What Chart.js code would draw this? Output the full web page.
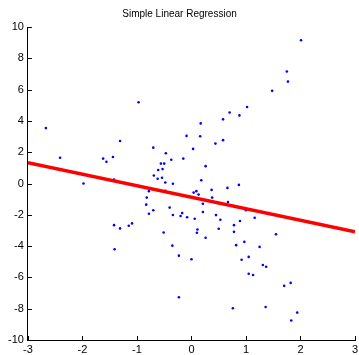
<!DOCTYPE html>
<html><head><meta charset="utf-8">
<script src="https://cdn.jsdelivr.net/npm/chart.js@4.4.0/dist/chart.umd.min.js"></script>
<style>html,body{margin:0;padding:0;background:#fff;overflow:hidden;}</style>
</head><body>
<canvas id="c" width="359" height="355" style="display:block;width:359px;height:355px"></canvas>
<script>
const titleText = "Simple Linear Regression";
const pointsX = [-0.97, 2.01, 1.75, 1.77, 1.48, 1.02, 0.70, 0.88, 0.58, -2.67,
  -2.41, -1.98, -1.62, -1.56, -1.44, -1.31, -1.42, -0.70, -0.47, -0.37,
  -0.56, -0.50, -0.53, -0.61, -0.69, -0.62, -0.54, -0.48, -0.34, -0.48,
  -0.78, -0.82, -0.83, -0.70, -0.78, -0.40, -0.34, -0.20, -1.42, -1.31,
  -1.15, -1.09, -1.41, -0.51, -0.35, -0.23, -0.23, 0.17, -0.09, 0.16,
  0.44, 0.58, 0.03, -0.15, 0.26, 0.18, 0.04, 0.09, 0.13, 0.37,
  0.66, 0.87, 0.38, 0.21, 0.67, 0.47, 1.00, 1.16, -0.17, -0.08,
  0.06, 0.21, 0.45, 0.53, 0.89, 0.78, 0.50, 0.00, 0.11, 0.10,
  0.26, 0.78, 0.82, 0.97, 1.25, 0.92, 1.05, 1.55, 1.31, 1.37,
  1.05, 1.13, 1.70, 1.82, 0.76, 1.36, 1.94, 1.83];
const pointsY = [5.19, 9.15, 7.16, 6.51, 5.92, 4.89, 4.54, 4.35, 4.10, 3.54,
  1.65, 0.00, 1.59, 1.39, 1.69, 2.72, 0.26, 2.29, 1.93, 1.52,
  1.27, 1.27, 0.92, 0.86, 0.51, 0.30, 0.37, 0.06, -0.02, -0.47,
  -0.49, -0.90, -1.35, -1.71, -1.93, -1.54, -2.01, -2.08, -2.66, -2.87,
  -2.70, -2.55, -4.20, -3.13, -3.97, -4.61, -7.27, 3.84, 3.04, 3.02,
  2.55, 2.77, 2.21, 1.59, 1.11, 0.21, -0.58, -0.49, -0.71, -0.41,
  -0.28, -0.09, -0.90, -1.29, -1.18, -1.25, -1.71, -2.19, -1.89, -2.16,
  -2.25, -1.82, -2.02, -2.32, -2.40, -2.66, -2.89, -4.84, -2.94, -3.15,
  -3.47, -3.09, -3.94, -3.73, -4.05, -4.87, -4.69, -3.24, -5.21, -5.32,
  -5.77, -5.85, -6.54, -6.35, -7.97, -7.89, -8.25, -8.75];
const fitX = [-3, 3];
const fitY = [1.33, -3.09];
const xTicks = [-3, -2, -1, 0, 1, 2, 3];
const yTicks = [-10, -8, -6, -4, -2, 0, 2, 4, 6, 8, 10];

const scatterData = pointsX.map((x, i) => ({x: x, y: pointsY[i]}));
const fitData = fitX.map((x, i) => ({x: x, y: fitY[i]}));

const inwardTicks = {
  id: 'inwardTicks',
  afterDraw(chart) {
    const {ctx, chartArea: a, scales: {x, y}} = chart;
    ctx.save();
    ctx.strokeStyle = '#000';
    ctx.lineWidth = 1;
    ctx.beginPath();
    x.ticks.forEach(t => {
      const px = Math.round(x.getPixelForValue(t.value)) + 0.5;
      ctx.moveTo(px, a.bottom); ctx.lineTo(px, a.bottom - 4);
    });
    y.ticks.forEach(t => {
      const py = Math.round(y.getPixelForValue(t.value)) + 0.5;
      ctx.moveTo(a.left, py); ctx.lineTo(a.left + 4, py);
    });
    ctx.stroke();
    ctx.restore();
  }
};

Chart.defaults.font.family = '"Liberation Sans", Arial, Helvetica, sans-serif';
Chart.defaults.color = '#000';

new Chart(document.getElementById('c'), {
  type: 'scatter',
  data: {
    datasets: [
      {
        label: 'Fit',
        data: fitData,
        showLine: true,
        borderColor: '#ff0000',
        backgroundColor: '#ff0000',
        borderWidth: 3.5,
        pointRadius: 0,
        order: 0
      },
      {
        label: 'Data',
        data: scatterData,
        backgroundColor: '#0000ff',
        borderColor: '#0000ff',
        borderWidth: 0,
        pointRadius: 1.3,
        order: 1
      }
    ]
  },
  options: {
    responsive: false,
    animation: false,
    layout: {padding: {left: 4, right: 4, top: 0, bottom: 0}},
    plugins: {
      legend: {display: false},
      tooltip: {enabled: false},
      title: {
        display: true,
        text: titleText,
        color: '#000',
        font: {size: 10, weight: 'normal', lineHeight: 1.2},
        padding: {top: 8, bottom: 7}
      }
    },
    scales: {
      x: {
        type: 'linear',
        min: -3, max: 3,
        afterBuildTicks: s => { s.ticks = xTicks.map(v => ({value: v})); },
        afterFit: s => { s.height = 15; s.paddingRight = 0; },
        grid: {display: false, drawTicks: false},
        border: {display: true, color: '#000', width: 1},
        ticks: {font: {size: 11, lineHeight: 1}, padding: 4, maxRotation: 0, autoSkip: false}
      },
      y: {
        type: 'linear',
        min: -10, max: 10,
        afterBuildTicks: s => { s.ticks = yTicks.map(v => ({value: v})); },
        grid: {display: false, drawTicks: false},
        border: {display: true, color: '#000', width: 1},
        ticks: {font: {size: 11}, padding: 4, autoSkip: false}
      }
    }
  },
  plugins: [inwardTicks]
});
</script>
</body></html>
